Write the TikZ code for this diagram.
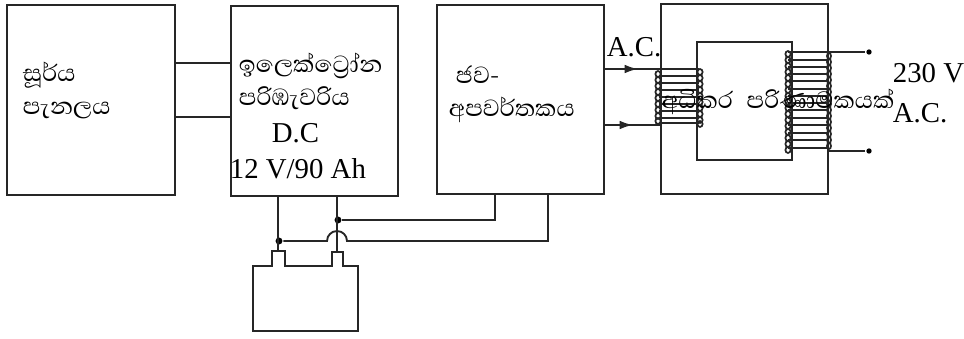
\documentclass[tikz,border=0pt]{standalone}
\usepackage{fontspec}
\setmainfont{Liberation Serif}
\newfontfamily\sinfont[Script=Sinhala]{Abhaya Libre}
\usetikzlibrary{arrows.meta}
\begin{document}
\begin{tikzpicture}[
    x=0.75pt, y=-0.75pt,
    line width=1.4pt, black!85,
    block node/.style={draw, rectangle, inner sep=0pt},
    dot node/.style={circle, fill=black, inner sep=0pt, minimum size=#1},
    dot node/.default=5.2pt,
    sin label/.style={font=\sinfont\fontsize{22.5}{26}\selectfont, text=black, anchor=west, inner sep=0pt},
    lat label/.style={font=\fontsize{21.6}{24}\selectfont, text=black, anchor=west, inner sep=0pt},
    coil wire/.style={line width=1.3pt},
    flow wire/.style={-{Latex[length=10pt,width=6.5pt]}}
]
\useasboundingbox (0,0) rectangle (964,339);

% Cajas principales
\node[block node, minimum width=126pt, minimum height=142.5pt] (panel) at (91,100) {};
\node[block node, minimum width=125.25pt, minimum height=142.5pt] (ctrl) at (314.5,101) {};
\node[block node, minimum width=125.25pt, minimum height=141.75pt] (inv) at (520.5,99.5) {};
\node[block node, minimum width=125.25pt, minimum height=142.5pt] (core) at (744.5,99) {};
\node[block node, minimum width=71.25pt, minimum height=88.5pt] (hole) at (744.5,101) {};

% Panel a controlador
\coordinate (p1) at (175,63);  \coordinate (c1) at (231,63);
\coordinate (p2) at (175,117); \coordinate (c2) at (231,117);
\draw (p1) -- (c1);
\draw (p2) -- (c2);

% Bateria
\coordinate (t1) at (278,196); \coordinate (t2) at (337,196);
\coordinate (b1) at (495,194); \coordinate (b2) at (548,194);
\coordinate (h1) at (327,241); \coordinate (h2) at (347,241);
\node[dot node] (d1) at (279,241) {};
\node[dot node] (d2) at (338,220) {};
\draw (t1) -- (278,251);
\draw (t2) -- (337,252);
\draw (d2) -- (b1 |- d2) -- (b1);
\draw (d1) -- (h1) arc[start angle=180, end angle=0, radius=7.5pt] -- (b2 |- h2) -- (b2);
\draw (253,266) -- (272,266) -- (272,251) -- (285,251) -- (285,266) -- (332,266)
    -- (332,252) -- (343,252) -- (343,266) -- (358,266) -- (358,331) -- (253,331) -- cycle;

% Entrada del transformador
\coordinate (i1) at (604,69);  \coordinate (k1) at (661,69);
\coordinate (i2) at (604,125); \coordinate (k2) at (661,125);
\draw[flow wire] (i1) -- (638,69);
\draw[flow wire] (i2) -- (633,125);
\draw (i1) -- (k1);
\draw (i2) -- (k2);

% Bobina primaria
\draw[coil wire] (k1) -- (699,69);
\foreach \yy in {76,83,90,97,104,111,118,123} {
    \draw[coil wire] (659,\yy) -- (699,\yy);
}
\foreach \yy in {74,80,86,92,98,104,110,116,121} {
    \draw[coil wire] (658,\yy) ellipse[x radius=2.6, y radius=3];
}
\foreach \yy in {72,78,84,90,96,102,108,114,120,124} {
    \draw[coil wire] (700,\yy) ellipse[x radius=2.6, y radius=3];
}

% Bobina secundaria
\foreach \yy in {60,67,74,81,89,96,103,110,118,125,133,140,148} {
    \draw[coil wire] (788,\yy) -- (828,\yy);
}
\foreach \yy in {54,60,66,72,78,84,90,96,102,108,114,120,126,132,138,144,150} {
    \draw[coil wire] (788,\yy) ellipse[x radius=2.6, y radius=3];
}
\foreach \yy in {56,62,68,74,80,86,92,98,104,110,116,122,128,134,140,146} {
    \draw[coil wire] (829,\yy) ellipse[x radius=2, y radius=3];
}
\coordinate (s1) at (788,52);
\coordinate (s2) at (828,151);
\node[dot node=4pt] (o1) at (869,52) {};
\node[dot node=4pt] (o2) at (869,151) {};
\draw (s1) -- (o1);
\draw (s2) -- (o2);

% Textos
\node[sin label] (tp1) at (22,75) {සූර්ය};
\node[sin label] (tp2) at (22,110) {පැනලය};
\node[sin label] (tc1) at (238,66) {ඉලෙක්ට්‍රෝන};
\node[sin label] (tc2) at (238,98) {පරිඹැවරිය};
\node[lat label] (tc3) at (271,133) {D.C};
\node[lat label] (tc4) at (229,169) {12 V/90 Ah};
\node[sin label] (ti1) at (455,75) {ජව-};
\node[sin label] (ti2) at (448,110) {අපවර්තකය};
\node[lat label] (ac1) at (606,47) {A.C.};
\node[sin label] (tt1) at (661,102) {අධිකර\hspace{6pt} පරිණාමකයක්};
\node[lat label] (tv) at (892,73) {230 V};
\node[lat label] (ac2) at (892,113) {A.C.};
\end{tikzpicture}
\end{document}
